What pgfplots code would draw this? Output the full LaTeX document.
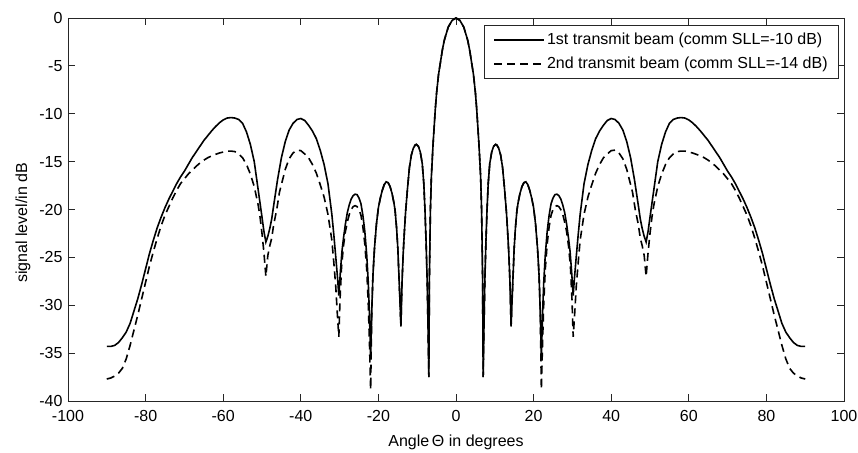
\documentclass[border=0pt]{standalone}
\usepackage{fontspec}
\setmainfont{Liberation Sans}
\usepackage{pgfplots}
\pgfplotsset{compat=1.18}
\begin{document}
\begin{tikzpicture}
\begin{axis}[
  scale only axis,
  width=776pt, height=383pt,
  xmin=-100, xmax=100, ymin=-40, ymax=0,
  xtick={-100,-80,...,100},
  ytick={-40,-35,...,0},
  tick align=inside,
  major tick length=7pt,
  axis line style={black!85, line width=0.9pt},
  every tick/.style={black!85, line width=0.9pt},
  /pgf/number format/assume math mode=true,
  tick label style={font=\fontsize{16}{19}\selectfont},
  xticklabel style={yshift=-6pt},
  yticklabel style={xshift=-2pt},
  xlabel={Angle\,Θ in degrees},
  ylabel={signal level/in dB},
  xlabel style={font=\fontsize{16}{19}\selectfont, at={(axis description cs:0.5,-0.120)}, anchor=base},
  ylabel style={font=\fontsize{16}{19}\selectfont, at={(axis description cs:-0.0528,0.465)}, anchor=base},
  legend cell align=left,
  legend style={at={(0.9936,0.982)}, anchor=north east, draw=black!85, line width=0.8pt, fill=white,
    font=\fontsize{16}{19}\selectfont, inner xsep=9pt, inner ysep=6pt, row sep=7pt,
    nodes={inner xsep=2pt}},
  legend image code/.code={\draw[#1, line width=1.6pt] (0pt,0pt) -- (50pt,0pt);},
]
\addplot[black, line width=1.6pt] coordinates {
(-90,-34.3) (-89,-34.3) (-88,-34.2) (-87,-33.9) (-86,-33.4) (-85,-32.8) (-84,-31.9) (-83,-30.6) (-82,-29.3) (-81,-27.8) (-80,-26.2) (-79,-24.6) (-78,-23.2) (-77,-21.9) (-76,-20.8) (-75,-19.8) (-74,-18.9) (-73,-18.1) (-72,-17.3) (-71,-16.6) (-70,-16.0) (-69,-15.3) (-68,-14.6) (-67,-14.0) (-66,-13.4) (-65,-12.8) (-64,-12.3) (-63,-11.8) (-62,-11.35) (-61,-10.95) (-60,-10.65) (-59,-10.45) (-58,-10.4) (-57,-10.45) (-56,-10.6) (-55,-11.0) (-54,-11.9) (-53,-13.2) (-52,-15.0) (-51,-17.9) (-50,-20.8) (-49.5,-22.3) (-49,-23.4)
(-48.5,-22.8) (-48,-22.0) (-47.5,-21.0) (-47,-19.6) (-46,-16.9) (-45,-14.6) (-44,-12.9) (-43,-11.7) (-42,-11.0) (-41,-10.6) (-40,-10.5) (-39,-10.7) (-38,-11.2) (-37,-11.8) (-36,-12.6) (-35,-13.8) (-34,-15.3) (-33,-17.3) (-32,-20.5) (-31.5,-22.6) (-31,-24.9) (-30.5,-27.3) (-30.2,-29.0)
(-29.8,-26.5) (-29.4,-24.4) (-29,-23.0) (-28.5,-21.5) (-28,-20.3) (-27.5,-19.5) (-27,-18.9) (-26.5,-18.55) (-26,-18.4) (-25.5,-18.45) (-25,-18.8) (-24.5,-19.4) (-24,-20.6) (-23.5,-22.3) (-23,-24.8) (-22.6,-27.7) (-22.3,-31.0) (-22,-35.5)
(-21.7,-30.5) (-21.4,-26.8) (-21,-24.0) (-20.5,-21.5) (-20,-19.8) (-19.5,-18.8) (-19,-18.0) (-18.5,-17.4) (-18,-17.1) (-17.5,-17.2) (-17,-17.6) (-16.5,-18.3) (-16,-19.3) (-15.7,-20.1) (-15.3,-22.0) (-15,-24.0) (-14.7,-27.0) (-14.4,-30.0) (-14.2,-32.2)
(-13.9,-27.5) (-13.6,-24.5) (-13.3,-22.3) (-13,-20.3) (-12.5,-17.8) (-12,-15.6) (-11.5,-14.3) (-11,-13.6) (-10.5,-13.25) (-10.2,-13.2) (-9.7,-13.4) (-9.2,-14.0) (-8.7,-15.2) (-8.3,-17.3) (-8,-20.0) (-7.7,-23.5) (-7.4,-28.0) (-7.2,-32.5) (-7,-37.5)
(-6.85,-27.0) (-6.6,-20.1) (-6.35,-16.6) (-6.15,-15.0) (-5.9,-13.1) (-5.6,-11.2) (-5.35,-9.6) (-5,-7.8) (-4.5,-5.9) (-4,-4.6) (-3.5,-3.3) (-3,-2.3) (-2,-0.95) (-1,-0.25) (0,0)
(1,-0.25) (2,-0.95) (3,-2.3) (3.5,-3.3) (4,-4.6) (4.5,-5.9) (5,-7.8) (5.35,-9.6) (5.6,-11.2) (5.9,-13.1) (6.15,-15.0) (6.35,-16.6) (6.6,-20.1) (6.85,-27.0) (7,-37.5)
(7.2,-32.5) (7.4,-28.0) (7.7,-23.5) (8,-20.0) (8.3,-17.3) (8.7,-15.2) (9.2,-14.0) (9.7,-13.4) (10.2,-13.2) (10.5,-13.25) (11,-13.6) (11.5,-14.3) (12,-15.6) (12.5,-17.8) (13,-20.3) (13.3,-22.3) (13.6,-24.5) (13.9,-27.5) (14.2,-32.2)
(14.4,-30.0) (14.7,-27.0) (15,-24.0) (15.3,-22.0) (15.7,-20.1) (16,-19.3) (16.5,-18.3) (17,-17.6) (17.5,-17.2) (18,-17.1) (18.5,-17.4) (19,-18.0) (19.5,-18.8) (20,-19.8) (20.5,-21.5) (21,-24.0) (21.4,-26.8) (21.7,-30.5) (22,-35.5)
(22.3,-31.0) (22.6,-27.7) (23,-24.8) (23.5,-22.3) (24,-20.6) (24.5,-19.4) (25,-18.8) (25.5,-18.45) (26,-18.4) (26.5,-18.55) (27,-18.9) (27.5,-19.5) (28,-20.3) (28.5,-21.5) (29,-23.0) (29.4,-24.4) (29.8,-26.5) (30.2,-29.0)
(30.5,-27.3) (31,-24.9) (31.5,-22.6) (32,-20.5) (33,-17.3) (34,-15.3) (35,-13.8) (36,-12.6) (37,-11.8) (38,-11.2) (39,-10.7) (40,-10.5) (41,-10.6) (42,-11.0) (43,-11.7) (44,-12.9) (45,-14.6) (46,-16.9) (47,-19.6) (47.5,-21.0) (48,-22.0) (48.5,-22.8) (49,-23.4)
(49.5,-22.3) (50,-20.8) (51,-17.9) (52,-15.0) (53,-13.2) (54,-11.9) (55,-11.0) (56,-10.6) (57,-10.45) (58,-10.4) (59,-10.45) (60,-10.65) (61,-10.95) (62,-11.35) (63,-11.8) (64,-12.3) (65,-12.8) (66,-13.4) (67,-14.0) (68,-14.6) (69,-15.3) (70,-16.0) (71,-16.6) (72,-17.3) (73,-18.1) (74,-18.9) (75,-19.8) (76,-20.8) (77,-21.9) (78,-23.2) (79,-24.6) (80,-26.2) (81,-27.8) (82,-29.3) (83,-30.6) (84,-31.9) (85,-32.8) (86,-33.4) (87,-33.9) (88,-34.2) (89,-34.3) (90,-34.3)
};
\addlegendentry{1st transmit beam (comm SLL=-10 dB)}
\addplot[black, line width=1.6pt, dash pattern=on 8pt off 5pt] coordinates {
(-90,-37.7) (-89,-37.6) (-88,-37.4) (-87,-37.1) (-86,-36.6) (-85,-35.6) (-84,-34.2) (-83,-32.6) (-82,-31.0) (-81,-29.3) (-80,-27.6) (-79,-25.9) (-78,-24.4) (-77,-23.0) (-76,-21.7) (-75,-20.6) (-74,-19.7) (-73,-18.8) (-72,-18.0) (-71,-17.3) (-70,-16.8) (-69,-16.3) (-68,-15.9) (-67,-15.5) (-66,-15.15) (-65,-14.85) (-64,-14.6) (-63,-14.4) (-62,-14.25) (-61,-14.1) (-60,-14.0) (-59,-13.9) (-58,-13.9) (-57,-13.95) (-56,-14.2) (-55,-14.6) (-54,-15.3) (-53,-16.3) (-52,-17.6) (-51,-19.5) (-50.5,-20.8) (-50,-22.5) (-49.5,-24.5) (-49,-27.0)
(-48.5,-24.8) (-48,-23.8) (-47.5,-23.0) (-47,-21.6) (-46.2,-20.0) (-45.5,-18.2) (-44.5,-16.6) (-44,-15.8) (-43,-14.7) (-42,-14.1) (-41,-13.8) (-40,-13.85) (-39,-14.2) (-38,-14.6) (-37,-15.3) (-36,-16.2) (-35,-17.4) (-34,-18.7) (-33,-20.5) (-32,-23.2) (-31.5,-25.5) (-31,-28.0) (-30.6,-30.8) (-30.2,-33.3)
(-29.9,-29.5) (-29.5,-26.0) (-29,-23.8) (-28.5,-22.3) (-28,-21.3) (-27.5,-20.5) (-27,-20.0) (-26.5,-19.7) (-26,-19.6) (-25.5,-19.7) (-25,-20.0) (-24.5,-20.6) (-24,-21.8) (-23.5,-23.6) (-23,-26.3) (-22.6,-30.0) (-22.3,-34.0) (-22,-38.8)
(-21.7,-30.5) (-21.4,-26.8) (-21,-24.0) (-20.5,-21.5) (-20,-19.8) (-19.5,-18.8) (-19,-18.0) (-18.5,-17.4) (-18,-17.1) (-17.5,-17.2) (-17,-17.6) (-16.5,-18.3) (-16,-19.3) (-15.7,-20.1) (-15.3,-22.0) (-15,-24.0) (-14.7,-27.0) (-14.4,-30.0) (-14.2,-32.2)
(-13.9,-27.5) (-13.6,-24.5) (-13.3,-22.3) (-13,-20.3) (-12.5,-17.8) (-12,-15.6) (-11.5,-14.3) (-11,-13.6) (-10.5,-13.25) (-10.2,-13.2) (-9.7,-13.4) (-9.2,-14.0) (-8.7,-15.2) (-8.3,-17.3) (-8,-20.0) (-7.7,-23.5) (-7.4,-28.0) (-7.2,-32.5) (-7,-37.5)
(-6.85,-27.0) (-6.6,-20.1) (-6.35,-16.6) (-6.15,-15.0) (-5.9,-13.1) (-5.6,-11.2) (-5.35,-9.6) (-5,-7.8) (-4.5,-5.9) (-4,-4.6) (-3.5,-3.3) (-3,-2.3) (-2,-0.95) (-1,-0.25) (0,0)
(1,-0.25) (2,-0.95) (3,-2.3) (3.5,-3.3) (4,-4.6) (4.5,-5.9) (5,-7.8) (5.35,-9.6) (5.6,-11.2) (5.9,-13.1) (6.15,-15.0) (6.35,-16.6) (6.6,-20.1) (6.85,-27.0) (7,-37.5)
(7.2,-32.5) (7.4,-28.0) (7.7,-23.5) (8,-20.0) (8.3,-17.3) (8.7,-15.2) (9.2,-14.0) (9.7,-13.4) (10.2,-13.2) (10.5,-13.25) (11,-13.6) (11.5,-14.3) (12,-15.6) (12.5,-17.8) (13,-20.3) (13.3,-22.3) (13.6,-24.5) (13.9,-27.5) (14.2,-32.2)
(14.4,-30.0) (14.7,-27.0) (15,-24.0) (15.3,-22.0) (15.7,-20.1) (16,-19.3) (16.5,-18.3) (17,-17.6) (17.5,-17.2) (18,-17.1) (18.5,-17.4) (19,-18.0) (19.5,-18.8) (20,-19.8) (20.5,-21.5) (21,-24.0) (21.4,-26.8) (21.7,-30.5) (22,-38.8)
(22.3,-34.0) (22.6,-30.0) (23,-26.3) (23.5,-23.6) (24,-21.8) (24.5,-20.6) (25,-20.0) (25.5,-19.7) (26,-19.6) (26.5,-19.7) (27,-20.0) (27.5,-20.5) (28,-21.3) (28.5,-22.3) (29,-23.8) (29.5,-26.0) (29.9,-29.5) (30.2,-33.3)
(30.6,-30.8) (31,-28.0) (31.5,-25.5) (32,-23.2) (33,-20.5) (34,-18.7) (35,-17.4) (36,-16.2) (37,-15.3) (38,-14.6) (39,-14.2) (40,-13.85) (41,-13.8) (42,-14.1) (43,-14.7) (44,-15.8) (44.5,-16.6) (45.5,-18.2) (46.2,-20.0) (47,-21.6) (47.5,-23.0) (48,-23.8) (48.5,-24.8) (49,-27.0)
(49.5,-24.5) (50,-22.5) (50.5,-20.8) (51,-19.5) (52,-17.6) (53,-16.3) (54,-15.3) (55,-14.6) (56,-14.2) (57,-13.95) (58,-13.9) (59,-13.9) (60,-14.0) (61,-14.1) (62,-14.25) (63,-14.4) (64,-14.6) (65,-14.85) (66,-15.15) (67,-15.5) (68,-15.9) (69,-16.3) (70,-16.8) (71,-17.3) (72,-18.0) (73,-18.8) (74,-19.7) (75,-20.6) (76,-21.7) (77,-23.0) (78,-24.4) (79,-25.9) (80,-27.6) (81,-29.3) (82,-31.0) (83,-32.6) (84,-34.2) (85,-35.6) (86,-36.6) (87,-37.1) (88,-37.4) (89,-37.6) (90,-37.7)
};
\addlegendentry{2nd transmit beam (comm SLL=-14 dB)}
\end{axis}
\pgfresetboundingbox
\path ([shift={(-68pt,-51pt)}]current axis.south west) rectangle ([shift={(14pt,18pt)}]current axis.north east);
\end{tikzpicture}
\end{document}
